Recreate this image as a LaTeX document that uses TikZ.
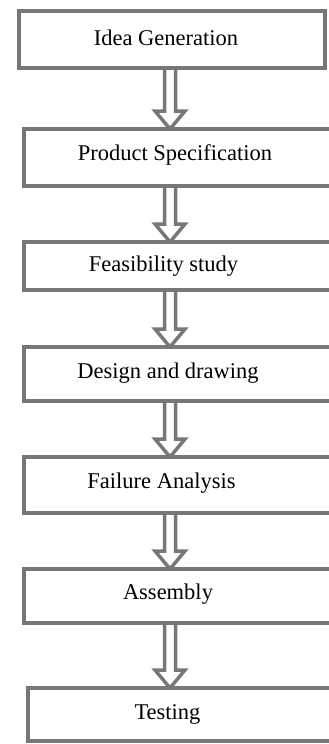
\documentclass[tikz,border=0pt]{standalone}
\usepackage{fontspec}
\setmainfont{Liberation Serif}
\usetikzlibrary{backgrounds,calc}
\definecolor{bordergray}{HTML}{777777}
\tikzset{
  boxstyle/.style={draw=bordergray, line width=4pt, fill=white, inner sep=0pt, outer sep=0pt, rectangle},
  lbl/.style={inner sep=0pt, font=\fontsize{22.5}{26}\selectfont, text=black},
  arr/.style={draw=bordergray, line width=3.5pt, fill=white, line join=miter}
}
\newcommand\harrow[2]{%
  \path[arr] let \p1=(#1.south -| ax), \p2=(#2.north -| ax) in
    (\x1-5.5pt,\y1) -- (\x1-5.5pt,\y2+18pt) -- (\x1-15pt,\y2+18pt) -- (\x1,\y2)
    -- (\x1+15pt,\y2+18pt) -- (\x1+5.5pt,\y2+18pt) -- (\x1+5.5pt,\y1);}
\begin{document}
\begin{tikzpicture}[x=1pt,y=-1pt]
\useasboundingbox (0,0) rectangle (329,744);
\clip (0,0) rectangle (329,744);
\coordinate (ax) at (170,0);
% boxes (border centre lines)
\node[boxstyle, minimum width=306pt, minimum height=57pt] (b1) at (172,39.5) {};
\node[boxstyle, minimum width=321pt, minimum height=57pt] (b2) at (184.5,157.5) {};
\node[boxstyle, minimum width=321pt, minimum height=48pt] (b3) at (184.5,266) {};
\node[boxstyle, minimum width=321pt, minimum height=54pt] (b4) at (184.5,374) {};
\node[boxstyle, minimum width=321pt, minimum height=56pt] (b5) at (184.5,485) {};
\node[boxstyle, minimum width=321pt, minimum height=54pt] (b6) at (184.5,596) {};
\node[boxstyle, minimum width=317pt, minimum height=53pt] (b7) at (186.5,714.5) {};
% labels
\node[lbl] (t1) at (166,38) {Idea Generation};
\node[lbl] (t2) at (175,155) {Product Specification};
\node[lbl] (t3) at (163.5,266) {Feasibility study};
\node[lbl] (t4) at (168,373) {Design and drawing};
\node[lbl] (t5) at (161.5,483) {Failure Analysis};
\node[lbl] (t6) at (168,594) {Assembly};
\node[lbl] (t7) at (167.5,714) {Testing};
% arrows
\begin{scope}[on background layer]
\fill[white] (0,0) rectangle (329,744);
\harrow{b1}{b2}
\harrow{b2}{b3}
\harrow{b3}{b4}
\harrow{b4}{b5}
\harrow{b5}{b6}
\harrow{b6}{b7}
\end{scope}
\end{tikzpicture}
\end{document}
